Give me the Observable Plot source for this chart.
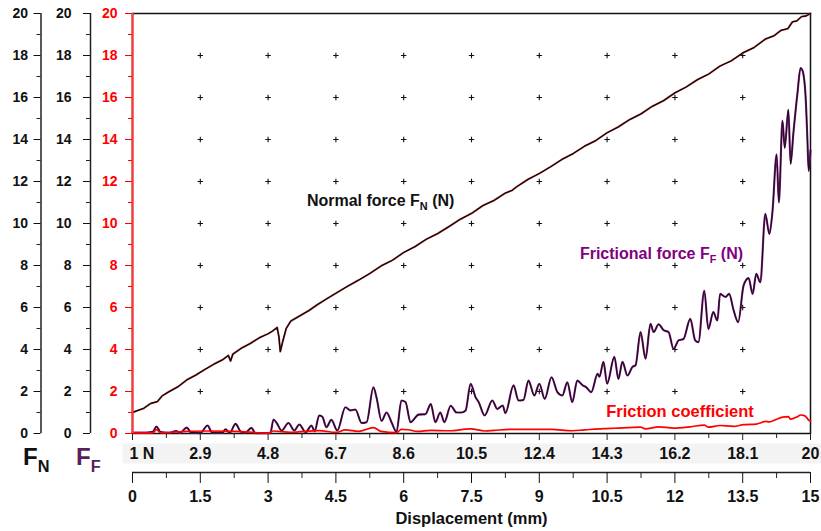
<!DOCTYPE html>
<html><head><meta charset="utf-8">
<script src="https://cdn.jsdelivr.net/npm/d3@7"></script>
<script src="https://cdn.jsdelivr.net/npm/@observablehq/plot@0.6"></script>
<style>
body{margin:0;background:#fff;}
</style></head><body><div id="chart"></div>
<script>
// ---------- data ----------
const displacementTicks = [0,1.5,3,4.5,6,7.5,9,10.5,12,13.5,15];
const displacementMinor = [0.75,2.25,3.75,5.25,6.75,8.25,9.75,11.25,12.75,14.25];
const normalForceTickLabels = ["1 N","2.9","4.8","6.7","8.6","10.5","12.4","14.3","16.2","18.1","20"];
const yTicks = [0,2,4,6,8,10,12,14,16,18,20];
const yMinor = [1,3,5,7,9,11,13,15,17,19];
const gridX = [1.5,3,4.5,6,7.5,9,10.5,12,13.5];
const gridY = [2,4,6,8,10,12,14,16,18];

// [displacement mm, normal force N]
const normalForce = [[0,1.0],[0.12,1.1],[0.25,1.2],[0.4,1.43],[0.55,1.52],[0.66,1.8],[0.8,1.98],[1,2.22],[1.2,2.55],[1.4,2.78],[1.6,3.05],[1.8,3.3],[2,3.52],[2.12,3.72],[2.17,3.45],[2.22,3.78],[2.4,4.05],[2.6,4.28],[2.8,4.55],[3,4.75],[3.1,4.88],[3.2,5.05],[3.24,4.6],[3.27,3.9],[3.32,4.35],[3.4,5.0],[3.5,5.35],[3.7,5.6],[3.9,5.85],[4.1,6.15],[4.3,6.42],[4.5,6.68],[4.75,7.0],[5,7.3],[5.25,7.62],[5.5,7.98],[5.75,8.25],[6,8.62],[6.25,8.9],[6.5,9.25],[6.75,9.52],[7,9.85],[7.25,10.2],[7.5,10.48],[7.75,10.85],[8,11.1],[8.25,11.45],[8.4,11.58],[8.5,11.75],[8.75,12.1],[9,12.38],[9.25,12.7],[9.5,13.05],[9.75,13.33],[10,13.68],[10.25,13.95],[10.5,14.32],[10.75,14.6],[11,14.95],[11.25,15.22],[11.5,15.58],[11.75,15.85],[12,16.22],[12.25,16.5],[12.5,16.85],[12.75,17.12],[13,17.5],[13.25,17.75],[13.5,18.12],[13.75,18.38],[14,18.78],[14.2,18.95],[14.35,19.2],[14.5,19.28],[14.6,19.6],[14.7,19.65],[14.8,19.85],[14.9,19.88],[15,20]];

// [displacement mm, frictional force N]
const frictionalForce = [[0,0.05],[0.3,0.04],[0.45,0.08],[0.53,0.33],[0.62,0.07],[0.8,0.03],[0.97,0.12],[1.05,0.03],[1.2,0.28],[1.3,0.04],[1.5,0.02],[1.66,0.38],[1.76,0.05],[1.98,0.03],[2.06,0.2],[2.15,0.03],[2.28,0.46],[2.4,0.08],[2.5,0.05],[2.63,0.27],[2.72,0.02],[3.05,0.02],[3.12,0.67],[3.19,0.5],[3.3,0.14],[3.45,0.5],[3.58,0.14],[3.69,0.43],[3.83,0.06],[3.96,0.38],[4.03,0.1],[4.13,0.86],[4.2,0.8],[4.29,0.3],[4.4,0.65],[4.53,0.14],[4.71,1.25],[4.82,1.1],[4.93,1.14],[5.07,0.5],[5.18,0.54],[5.33,2.2],[5.4,1.7],[5.51,0.6],[5.62,1.0],[5.73,0.54],[5.84,0.08],[5.95,1.57],[6.04,1.5],[6.15,0.54],[6.33,0.9],[6.48,0.92],[6.6,1.4],[6.7,0.54],[6.81,1.0],[6.9,0.54],[7.04,1.32],[7.17,1.0],[7.28,1.0],[7.37,1.1],[7.48,2.37],[7.59,1.73],[7.66,1.49],[7.79,0.86],[7.96,1.57],[8.07,1.17],[8.19,1.33],[8.25,0.97],[8.43,2.29],[8.54,1.57],[8.65,1.6],[8.76,2.52],[8.89,1.81],[9,2.37],[9.12,1.65],[9.27,2.68],[9.4,1.97],[9.51,1.81],[9.62,2.44],[9.73,1.49],[9.84,2.52],[9.96,2.29],[10.04,2.2],[10.15,1.97],[10.29,2.84],[10.33,2.7],[10.42,3.41],[10.5,2.37],[10.66,3.65],[10.75,2.6],[10.84,3.41],[10.95,2.76],[11.06,3.17],[11.13,3.25],[11.24,4.83],[11.35,3.56],[11.46,5.22],[11.53,4.83],[11.64,5.2],[11.75,4.92],[11.86,4.83],[11.97,4.03],[12.08,4.43],[12.19,4.5],[12.34,5.46],[12.45,4.43],[12.52,4.35],[12.65,6.8],[12.74,4.98],[12.85,5.78],[12.94,5.38],[13,6.65],[13.12,6.5],[13.2,6.65],[13.3,5.86],[13.4,5.3],[13.52,7.05],[13.63,7.4],[13.72,6.65],[13.8,7.6],[13.89,7.2],[14,10.46],[14.09,9.5],[14.16,10.6],[14.25,13.3],[14.3,11.0],[14.38,14.9],[14.43,13.6],[14.51,15.42],[14.56,12.84],[14.62,14.27],[14.71,16.17],[14.78,17.4],[14.82,17.3],[14.89,16.1],[14.93,14.1],[14.96,12.5],[15,13.5]];

// [displacement mm, friction coefficient]
const frictionCoefficient = [[0,0.03],[0.45,0.03],[0.53,0.18],[0.62,0.04],[1.2,0.1],[1.66,0.12],[2.28,0.1],[3,0.02],[3.12,0.12],[3.5,0.06],[4.13,0.14],[4.5,0.05],[4.71,0.17],[5,0.1],[5.33,0.28],[5.5,0.1],[5.84,0.04],[5.95,0.2],[6.1,0.18],[6.3,0.1],[6.6,0.15],[7,0.13],[7.48,0.22],[7.8,0.12],[8,0.15],[8.43,0.2],[8.76,0.2],[9.27,0.2],[9.73,0.13],[10,0.17],[10.42,0.23],[10.66,0.25],[11.24,0.3],[11.35,0.22],[11.64,0.32],[11.97,0.26],[12.34,0.32],[12.65,0.4],[12.74,0.3],[13,0.38],[13.3,0.34],[13.52,0.42],[13.8,0.45],[13.89,0.5],[14,0.58],[14.09,0.55],[14.25,0.68],[14.38,0.78],[14.51,0.8],[14.56,0.68],[14.71,0.8],[14.78,0.88],[14.85,0.86],[14.93,0.72],[14.96,0.63],[15,0.6]];

// annotation anchors [displacement, value]
const labelNormal = [3.87, 10.82];
const labelFrictional = [9.91, 8.29];
const labelCoefficient = [10.49, 0.76];

// ---------- chart ----------
const FONT = "'Liberation Sans', Arial, sans-serif";
const gridPts = gridX.flatMap(x => gridY.map(y => ({x, y})));
const toObj = a => a.map(([x, y]) => ({x, y}));
const fn = toObj(normalForce), ff = toObj(frictionalForce), mu = toObj(frictionCoefficient);
const RED = "#ff0000";
const AXIS_N = -91.5, AXIS_F = -42;

const plot = Plot.plot({
  width: 821, height: 531,
  marginLeft: 132, marginRight: 11, marginTop: 13, marginBottom: 98,
  style: {fontFamily: FONT, fontWeight: "bold", background: "#fff", color: "#000"},
  x: {domain: [0, 15], axis: null, label: null},
  y: {domain: [0, 20], axis: null, label: null},
  marks: [
    Plot.frame({fill: "#f3f3f3", stroke: null, insetTop: 430, insetBottom: -30, insetLeft: -10, insetRight: -11}),
    Plot.dot(gridPts, {x: "x", y: "y", symbol: "plus", r: 1.9, stroke: "#111", strokeWidth: 1.1}),
    Plot.frame({stroke: "#111", strokeWidth: 1.5}),
    // F_N axis
    Plot.ruleX([0], {stroke: "#222", strokeWidth: 1.5, dx: AXIS_N}),
    Plot.axisY(yTicks, {anchor: "left", tickSize: 7, tickPadding: 6, dx: AXIS_N, fontSize: 14, color: "#111", label: null}),
    Plot.axisY(yMinor, {anchor: "left", tickSize: 4, dx: AXIS_N, tickFormat: () => "", color: "#222", label: null}),
    // F_F axis
    Plot.ruleX([0], {stroke: "#222", strokeWidth: 1.5, dx: AXIS_F}),
    Plot.axisY(yTicks, {anchor: "left", tickSize: 7, tickPadding: 12, dx: AXIS_F, fontSize: 14, color: "#111", label: null}),
    Plot.axisY(yMinor, {anchor: "left", tickSize: 4, dx: AXIS_F, tickFormat: () => "", color: "#222", label: null}),
    // upper bottom axis (normal force)
    Plot.axisX(displacementTicks, {anchor: "bottom", tickSize: 7, tickFormat: () => "", color: "#222", label: null}),
    Plot.axisX(displacementMinor, {anchor: "bottom", tickSize: 5, tickFormat: () => "", color: "#222", label: null}),
    Plot.text(displacementTicks.slice(1), {x: d => d, text: d => normalForceTickLabels[displacementTicks.indexOf(d)], frameAnchor: "bottom", dy: 20, lineAnchor: "middle", fontSize: 16, fill: "#111"}),
    Plot.text([0], {x: d => d, text: () => normalForceTickLabels[0], frameAnchor: "bottom", dy: 20, dx: -3, lineAnchor: "middle", textAnchor: "start", fontSize: 16, fill: "#111"}),
    // lower bottom axis (displacement)
    Plot.ruleY([0], {stroke: "#222", strokeWidth: 1.5, dy: 39}),
    Plot.axisX(displacementTicks, {anchor: "bottom", tickSize: 11, tickPadding: 7, dy: 39, fontSize: 16, color: "#111", label: null, tickFormat: d => String(d)}),
    Plot.axisX(displacementMinor, {anchor: "bottom", tickSize: 6, dy: 39, tickFormat: () => "", color: "#222", label: null}),
    Plot.text(["Displacement (mm)"], {frameAnchor: "bottom", dy: 85, lineAnchor: "middle", fontSize: 16.5, fill: "#111"}),
    // data lines
    Plot.line(fn, {x: "x", y: "y", stroke: "#8a2a2a", strokeWidth: 1.9}),
    Plot.line(fn, {x: "x", y: "y", stroke: "#000", strokeWidth: 1}),
    Plot.line(ff, {x: "x", y: "y", stroke: "#8a1a8a", strokeWidth: 2.1, curve: "monotone-x"}),
    Plot.line(ff, {x: "x", y: "y", stroke: "#111", strokeWidth: 1.1, curve: "monotone-x"}),
    Plot.line(mu, {x: "x", y: "y", stroke: RED, strokeWidth: 1.7, curve: "monotone-x"}),
    // red axis
    Plot.ruleX([0], {stroke: "#ff3b3b", strokeWidth: 2.2}),
    Plot.axisY(yTicks, {anchor: "left", tickSize: 7, tickPadding: 8, fontSize: 14, color: RED, label: null}),
    Plot.axisY(yMinor, {anchor: "left", tickSize: 4, tickFormat: () => "", color: RED, label: null})
  ]
});

document.getElementById("chart").appendChild(plot);

// rich-text labels with subscripts
const svg = d3.select(plot);
const xs = plot.scale("x"), ys = plot.scale("y");
function richLabel(px, py, parts, size, color, anchor = "start") {
  const t = svg.append("text").attr("x", px).attr("y", py)
    .attr("font-family", FONT).attr("font-weight", "bold")
    .attr("font-size", size).attr("fill", color).attr("text-anchor", anchor);
  let shift = 0;
  for (const [txt, sub] of parts) {
    const s = t.append("tspan").text(txt);
    if (sub) { s.attr("font-size", size * 0.68).attr("dy", size * 0.28 - shift); shift = size * 0.28; }
    else { if (shift) s.attr("dy", -shift); shift = 0; }
  }
}
richLabel(xs.apply(labelNormal[0]), ys.apply(labelNormal[1]), [["Normal force F"],["N", true],[" (N)"]], 16, "#111");
richLabel(xs.apply(labelFrictional[0]), ys.apply(labelFrictional[1]), [["Frictional force F"],["F", true],[" (N)"]], 16, "#800080");
richLabel(xs.apply(labelCoefficient[0]), ys.apply(labelCoefficient[1]), [["Friction coefficient"]], 16.5, RED);
// axis titles
richLabel(23, 465, [["F"],["N", true]], 24, "#111");
richLabel(76, 465, [["F"],["F", true]], 24, "#5a1f5a");
</script>
</body></html>
